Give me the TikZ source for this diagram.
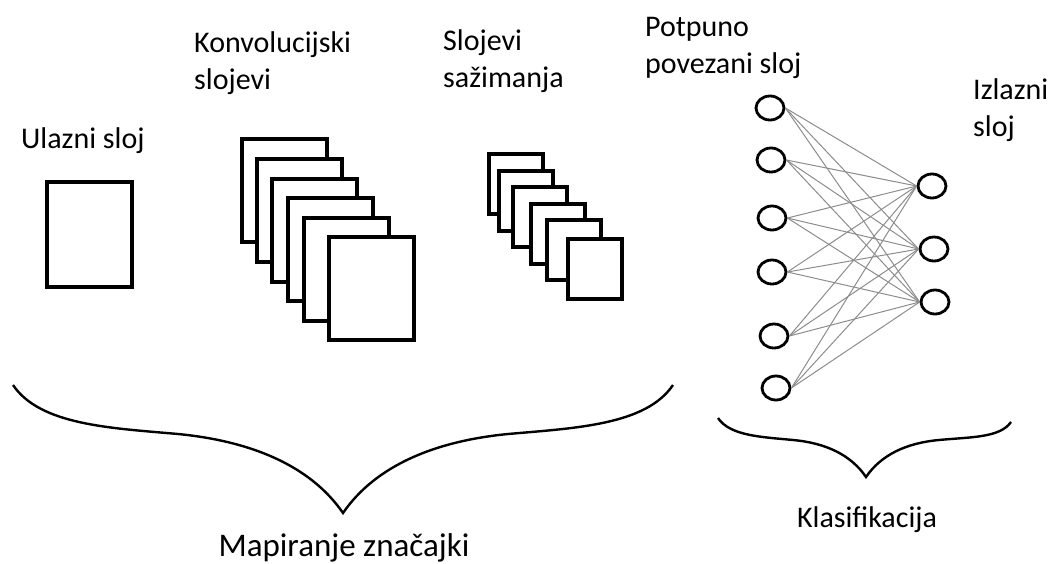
\documentclass[tikz,border=0pt]{standalone}
\usepackage{fontspec}
\setmainfont{Carlito}
\usetikzlibrary{shapes.geometric}

\tikzset{
  layer/.style={draw=black, line width=3.2pt, fill=white},
  neuron/.style={draw=black, ellipse, line width=2.8pt, fill=white,
    minimum width=28pt, minimum height=24pt, inner sep=0pt},
  link/.style={draw=black!45, line width=1pt},
  brace/.style={draw=black, line width=2.4pt},
  label/.style={font=\fontsize{30}{37}\selectfont, align=left, inner sep=0pt}
}

\begin{document}
\begin{tikzpicture}[x=1pt,y=-1pt]
    \useasboundingbox (0,0) rectangle (1053,563);

    % input layer
    \draw [layer] (47,182) rectangle (132,287);

    % convolution layers, back to front
    \foreach \x/\y in {242/139, 257/159, 272/179, 288/198, 304/218, 329/237}
        \draw [layer] (\x,\y) rectangle ++(85,103);

    % pooling layers, back to front
    \foreach \x/\y in {489/154, 499/171, 513/187, 531/204, 547/220, 568/239}
        \draw [layer] (\x,\y) rectangle ++(54,60);

    % fully connected layer and output layer
    \foreach \n/\x/\y in {1/770/108, 2/771/160, 3/772/218, 4/772/272, 5/774/336, 6/776/388}
        \node [neuron] (fc\n) at (\x,\y) {};
    \foreach \n/\x/\y in {1/932/186, 2/934/249, 3/935/302}
        \node [neuron] (out\n) at (\x,\y) {};
    \foreach \i in {1,...,6}
        \foreach \j in {1,2,3}
            \draw [link] (fc\i.east) -- (out\j.west);

    % braces
    \draw [brace] (13,385) .. controls (40,425) and (110,428) .. (178,434)
        .. controls (250,441) and (310,465) .. (343,513)
        .. controls (376,465) and (436,441) .. (508,434)
        .. controls (576,428) and (646,425) .. (673,385);
    \draw [brace] (718,418) .. controls (730,436) and (762,437) .. (793,440)
        .. controls (826,443) and (851,455) .. (866,477)
        .. controls (881,455) and (906,443) .. (939,440)
        .. controls (970,437) and (1000,438) .. (1011,422);

    % labels (base = baseline of the last line)
    \node [label, anchor=base west] (input) at (21,148) {Ulazni sloj};
    \node [label, anchor=base west] (conv) at (194,89) {Konvolucijski\\slojevi};
    \node [label, anchor=base west] (pool) at (443,87) {Slojevi\\sažimanja};
    \node [label, anchor=base west] (fc) at (645,73) {Potpuno\\povezani sloj};
    \node [label, anchor=base west] (out) at (973,136) {Izlazni\\sloj};
    \node [label, anchor=base, font=\fontsize{33}{40}\selectfont] (features) at (344,556) {Mapiranje značajki};
    \node [label, anchor=base] (class) at (867,527) {Klasifikacija};
\end{tikzpicture}
\end{document}
